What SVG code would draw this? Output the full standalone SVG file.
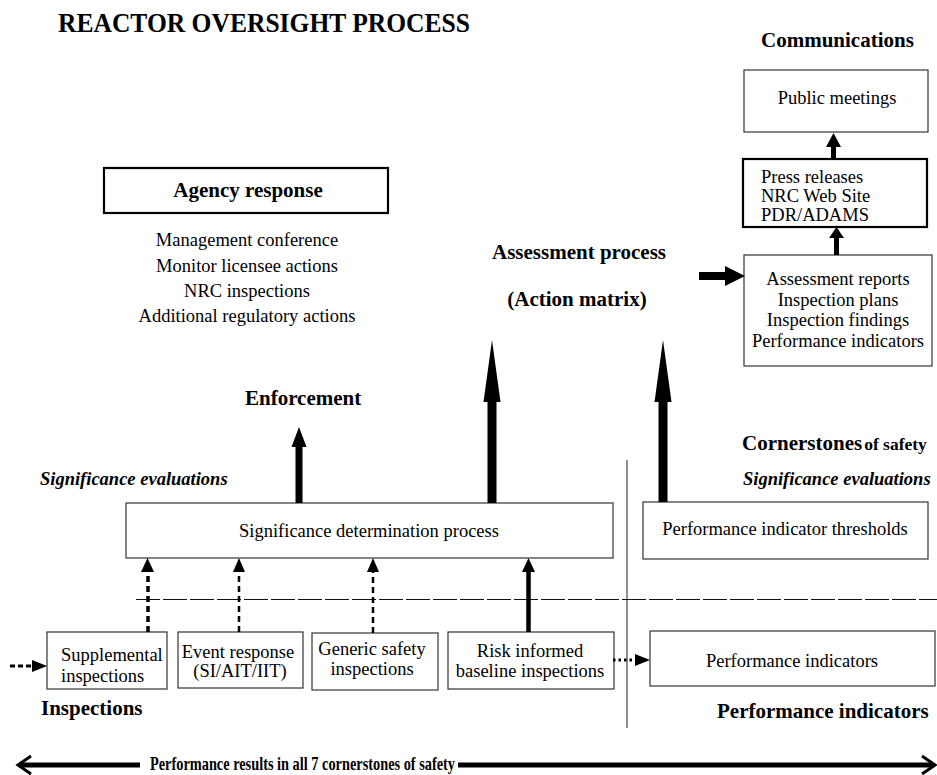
<svg xmlns="http://www.w3.org/2000/svg" width="937" height="775" viewBox="0 0 937 775">
<style>
text{font-family:"Liberation Serif","Times New Roman",serif;fill:#000}
.r{font-size:18.5px}
.b{font-size:21px;font-weight:bold}
.bi{font-size:18.5px;font-weight:bold;font-style:italic}
.c{text-anchor:middle}
.thin{fill:#fff;stroke:#333;stroke-width:1.2}
.thick{fill:#fff;stroke:#000;stroke-width:2.2}
</style>
<rect width="937" height="775" fill="#fff"/>
<text x="58" y="32" font-size="28" font-weight="bold" textLength="412" lengthAdjust="spacingAndGlyphs">REACTOR OVERSIGHT PROCESS</text>

<g id="communications-label"><text class="b" x="761" y="47">Communications</text></g>
<g id="public-meetings"><rect class="thin" x="744" y="70" width="184" height="62"/><text class="r c" x="837" y="104">Public meetings</text></g>
<g id="press-releases"><rect class="thick" x="743" y="159" width="184" height="68"/>
<text class="r" x="761" y="183">Press releases</text><text class="r" x="761" y="202">NRC Web Site</text><text class="r" x="761" y="221">PDR/ADAMS</text></g>
<g id="assessment-reports"><rect class="thin" x="744" y="255" width="188" height="111"/>
<text class="r c" x="838" y="285">Assessment reports</text><text class="r c" x="838" y="306">Inspection plans</text><text class="r c" x="838" y="326">Inspection findings</text><text class="r c" x="838" y="347">Performance indicators</text></g>

<g id="agency-response"><rect class="thick" x="104" y="168" width="284" height="45"/><text class="b c" x="248" y="197">Agency response</text>
<text class="r c" x="247" y="246">Management conference</text><text class="r c" x="247" y="272">Monitor licensee actions</text><text class="r c" x="247" y="297">NRC inspections</text><text class="r c" x="247" y="322">Additional regulatory actions</text></g>

<g id="assessment-process"><text class="b c" x="579" y="259">Assessment process</text><text class="b c" x="577" y="306">(Action matrix)</text></g>
<g id="enforcement"><text class="b" x="245" y="405">Enforcement</text></g>
<g id="cornerstones"><text x="742" y="450"><tspan class="b">Cornerstones</tspan><tspan font-size="17.5" font-weight="bold" dx="2">of safety</tspan></text></g>
<g id="sig-eval-left"><text class="bi" x="40" y="485">Significance evaluations</text></g>
<g id="sig-eval-right"><text class="bi" x="743" y="485">Significance evaluations</text></g>

<g id="sdp"><rect class="thin" x="126" y="503" width="487" height="55"/><text class="r c" x="369" y="537">Significance determination process</text></g>
<g id="pi-thresholds"><rect class="thin" x="643" y="502" width="285" height="57"/><text class="r c" x="785" y="535">Performance indicator thresholds</text></g>

<g id="supplemental"><rect class="thin" x="47" y="632" width="120" height="57"/><text class="r" x="61" y="661">Supplemental</text><text class="r" x="61" y="682">inspections</text></g>
<g id="event-response"><rect class="thin" x="178" y="632" width="125" height="56"/><text class="r c" x="238" y="658">Event response</text><text class="r c" x="240" y="677">(SI/AIT/IIT)</text></g>
<g id="generic-safety"><rect class="thin" x="312" y="633" width="126" height="57"/><text class="r c" x="372" y="655">Generic safety</text><text class="r c" x="372" y="675">inspections</text></g>
<g id="risk-informed"><rect class="thin" x="448" y="632" width="166" height="57"/><text class="r c" x="530" y="657">Risk informed</text><text class="r c" x="530" y="677">baseline inspections</text></g>
<g id="performance-indicators"><rect class="thin" x="650" y="631" width="285" height="55"/><text class="r c" x="792" y="667">Performance indicators</text></g>

<g id="inspections-label"><text class="b" x="41" y="715">Inspections</text></g>
<g id="pi-label"><text class="b" x="717" y="718">Performance indicators</text></g>
<g id="bottom-label"><text x="150" y="770" font-size="19" font-weight="bold" textLength="305" lengthAdjust="spacingAndGlyphs">Performance results in all 7 cornerstones of safety</text></g>

<g id="connectors">
<line x1="627" y1="460" x2="627" y2="728" stroke="#444" stroke-width="1.2"/>
<line x1="136" y1="599.5" x2="937" y2="599.5" stroke="#111" stroke-width="1" stroke-dasharray="24 3"/>
<!-- press -> public -->
<rect x="831" y="146" width="5" height="13"/><polygon points="833.5,133 826,147 841,147"/>
<!-- assessment -> press -->
<rect x="834" y="236" width="5" height="19"/><polygon points="836.5,227 829,238 844,238"/>
<!-- into assessment reports -->
<rect x="699" y="272" width="28" height="8"/><polygon points="745,276 725,266 725,286"/>
<!-- SDP up arrows -->
<rect x="487.5" y="400" width="9" height="103"/><polygon points="492,340 483.5,402 500.5,402"/>
<rect x="658.5" y="400" width="9" height="102"/><polygon points="663,340 654.5,402 671.5,402"/>
<rect x="295.5" y="445" width="7" height="58"/><polygon points="299,427 291.5,447 306.5,447"/>
<!-- dashed arrows up -->
<line x1="148" y1="632" x2="148" y2="570" stroke="#000" stroke-width="3.5" stroke-dasharray="6 4"/><polygon points="147.5,558 141,572 154,572"/>
<line x1="239" y1="632" x2="239" y2="570" stroke="#000" stroke-width="2.5" stroke-dasharray="6 4"/><polygon points="239,558 233,572 245,572"/>
<line x1="373" y1="633" x2="373" y2="570" stroke="#000" stroke-width="2.5" stroke-dasharray="6 4"/><polygon points="373,558 367,572 379,572"/>
<line x1="528.5" y1="632" x2="528.5" y2="568" stroke="#000" stroke-width="4.5"/><polygon points="528.5,558 522,572 535,572"/>
<!-- left dashed into supplemental -->
<line x1="10" y1="666" x2="33" y2="666" stroke="#000" stroke-width="3" stroke-dasharray="5 3"/><polygon points="47,666 32,660 32,672"/>
<!-- dotted risk -> PI -->
<line x1="613" y1="660" x2="636" y2="660" stroke="#000" stroke-width="3" stroke-dasharray="2.5 3"/><polygon points="650,660 635,654 635,666"/>
<!-- bottom double arrow -->
<line x1="19" y1="765" x2="140" y2="765" stroke="#000" stroke-width="5"/>
<path d="M31,756 L18,765 L31,774" fill="none" stroke="#000" stroke-width="3"/>
<line x1="458" y1="765" x2="933" y2="765" stroke="#000" stroke-width="5"/>
<path d="M922,756 L935,765 L922,774" fill="none" stroke="#000" stroke-width="3"/>
</g>
</svg>
